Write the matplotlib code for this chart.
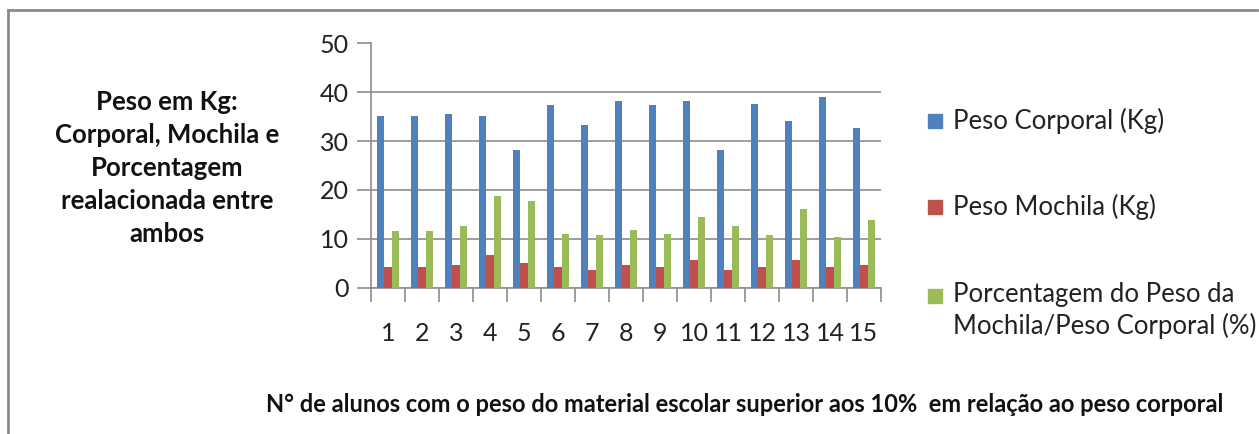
import matplotlib
matplotlib.use("Agg")
import matplotlib.pyplot as plt
from matplotlib.patches import Rectangle
import numpy as np

# Data
alunos = [str(i) for i in range(1, 16)]
peso_corporal = [35.2, 35.2, 35.6, 35.2, 28.1, 37.3, 33.3, 38.2, 37.3, 38.2, 28.1, 37.6, 34.2, 39.0, 32.7]
peso_mochila = [4.1, 4.1, 4.7, 6.6, 5.0, 4.1, 3.6, 4.7, 4.1, 5.6, 3.6, 4.1, 5.6, 4.1, 4.7]
porcentagem = [11.5, 11.5, 12.7, 18.7, 17.8, 11.0, 10.7, 11.8, 11.0, 14.4, 12.7, 10.7, 16.1, 10.4, 13.8]
series_labels = ["Peso Corporal (Kg)", "Peso Mochila (Kg)",
                 "Porcentagem do Peso da\nMochila/Peso Corporal (%)"]
y_ticks = [0, 10, 20, 30, 40, 50]

colors = ["#4F81BD", "#C0504D", "#9BBB59"]
grid_c = "#8C8C8C"
font = "Lato"

W, H = 1259, 434
fig = plt.figure(figsize=(W / 100, H / 100), dpi=100)

# axes placed in pixel coordinates
x0, x1, y0, y1 = 371, 881, 287.5, 43.5
ax = fig.add_axes([x0 / W, 1 - y0 / H, (x1 - x0) / W, (y0 - y1) / H])

n = len(alunos)
x = np.arange(n)
bw = 1 / 4.5
for k, (vals, c) in enumerate(zip([peso_corporal, peso_mochila, porcentagem], colors)):
    ax.bar(x + (k - 1) * bw, vals, width=bw, color=c, label=series_labels[k], zorder=3)

ax.set_xlim(-0.5, n - 0.5)
ax.set_ylim(0, 50)
ax.set_yticks(y_ticks)
ax.set_yticklabels([str(t) for t in y_ticks], fontsize=18, family=font, color="#222222")
ax.yaxis.grid(True, color=grid_c, linewidth=1.2, zorder=0)
ax.tick_params(axis="y", length=10, width=1.2, color=grid_c, pad=6)

# category labels centred, tick marks at category boundaries
ax.set_xticks(x)
ax.set_xticklabels(alunos, fontsize=18, family=font, color="#222222")
ax.tick_params(axis="x", length=0, pad=25)
ax.set_xticks(np.arange(-0.5, n, 1), minor=True)
ax.tick_params(axis="x", which="minor", length=10, width=1.2, color=grid_c)

for s in ["top", "right"]:
    ax.spines[s].set_visible(False)
for s in ["left", "bottom"]:
    ax.spines[s].set_color(grid_c)
    ax.spines[s].set_linewidth(1.2)

# vertical axis title
fig.text(167 / W, 1 - 168 / H,
         "Peso em Kg:\nCorporal, Mochila e\nPorcentagem\nrealacionada entre\nambos",
         ha="center", va="center", fontsize=18.5, fontweight="bold", family=font,
         linespacing=1.45, color="#111111")

# horizontal axis title
fig.text(745 / W, 1 - 405 / H,
         "N° de alunos com o peso do material escolar superior aos 10%  em relação ao peso corporal",
         ha="center", va="center", fontsize=17, fontweight="bold", family=font, color="#111111")

# legend
leg_rows = [121, 207, 296]
for lbl, c, yy in zip(series_labels, colors, leg_rows):
    fig.patches.append(Rectangle((928 / W, 1 - (yy + 7) / H), 14 / W, 14 / H,
                                 transform=fig.transFigure, color=c, figure=fig))
    if "\n" in lbl:
        fig.text(953 / W, 1 - (yy - 14) / H, lbl, ha="left", va="top",
                 fontsize=18.5, family=font, color="#222222", linespacing=1.3)
    else:
        fig.text(953 / W, 1 - yy / H, lbl, ha="left", va="center",
                 fontsize=18.5, family=font, color="#222222")

# outer frame
fig.add_artist(plt.Line2D([8 / W, 8 / W], [0, 1 - 10 / H], transform=fig.transFigure,
                          color="#8A8A8A", linewidth=2))
fig.add_artist(plt.Line2D([8 / W, 1257 / W], [1 - 10 / H, 1 - 10 / H], transform=fig.transFigure,
                          color="#8A8A8A", linewidth=2))

fig.savefig("out.png", dpi=100)
